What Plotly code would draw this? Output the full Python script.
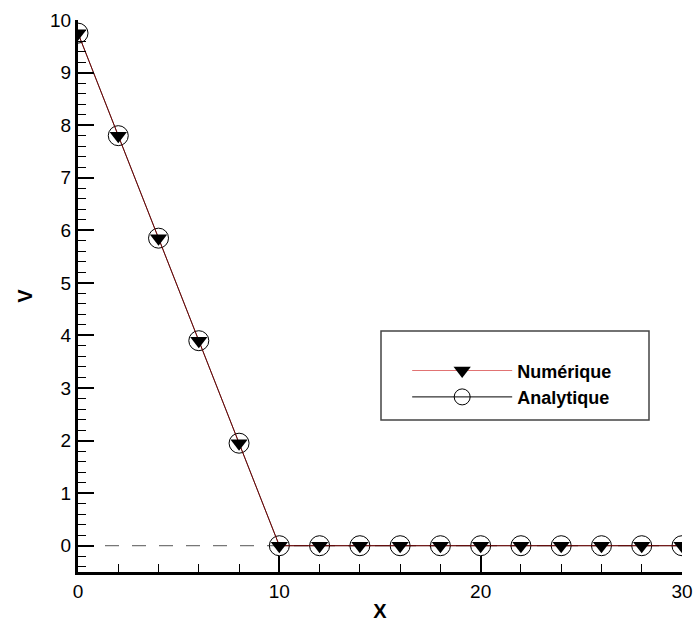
import plotly.graph_objects as go

x_vals = [0, 2, 4, 6, 8, 10, 12, 14, 16, 18, 20, 22, 24, 26, 28, 30]
v_numerique = [9.75, 7.8, 5.85, 3.9, 1.95, 0, 0, 0, 0, 0, 0, 0, 0, 0, 0, 0]
v_analytique = [9.75, 7.8, 5.85, 3.9, 1.95, 0, 0, 0, 0, 0, 0, 0, 0, 0, 0, 0]
zero_x = [0, 30]
zero_y = [0, 0]

fig = go.Figure()
fig.add_trace(go.Scatter(x=zero_x, y=zero_y, mode="lines", showlegend=False,
                         line=dict(color="#555555", width=1, dash="14px,13px"), hoverinfo="skip"))
fig.add_trace(go.Scatter(x=x_vals, y=v_analytique, name="Analytique", mode="lines+markers",
                         line=dict(color="#000000", width=1),
                         marker=dict(symbol="circle-open", size=20, color="#000000", line=dict(width=1))))
fig.add_trace(go.Scatter(x=x_vals, y=v_numerique, name="Numérique", mode="lines+markers",
                         line=dict(color="rgba(200,0,0,0.55)", width=1),
                         marker=dict(symbol="triangle-down", size=15, color="#000000")))

font_family = "Liberation Sans, Arial, sans-serif"
axis_common = dict(showline=True, linecolor="black", linewidth=3, ticks="inside",
                   tickcolor="black", tickwidth=2, ticklen=16, showgrid=False, zeroline=False,
                   tickfont=dict(family=font_family, size=19, color="black"), mirror=False,
                   automargin=False, ticklabeloverflow="allow")

fig.update_layout(
    width=697, height=626,
    margin=dict(l=78, r=15, t=20, b=54, autoexpand=False),
    paper_bgcolor="white", plot_bgcolor="white",
    xaxis=dict(range=[0, 30], dtick=10, tick0=0,
               minor=dict(dtick=2, ticks="inside", ticklen=8, tickcolor="black", tickwidth=1),
               title=dict(text="X", font=dict(family=font_family, size=20, color="black", weight="bold"), standoff=4),
               **axis_common),
    yaxis=dict(range=[-0.5, 10], dtick=1, tick0=0,
               minor=dict(dtick=0.2, tick0=0, ticks="inside", ticklen=8, tickcolor="black", tickwidth=1),
               title=dict(text="V", font=dict(family=font_family, size=20, color="black", weight="bold"), standoff=13),
               **axis_common),
    legend=dict(x=0.545, y=0.398, xanchor="left", yanchor="top", traceorder="reversed",
                bgcolor="rgba(0,0,0,0)", borderwidth=0, itemwidth=100,
                font=dict(family=font_family, size=18, color="black", weight="bold"),
                tracegroupgap=0),
    showlegend=True,
    shapes=[dict(type="rect", xref="paper", yref="paper",
                 x0=(381 - 78) / 604, x1=(649 - 78) / 604,
                 y0=(572 - 420) / 552, y1=(572 - 331) / 552,
                 line=dict(color="#444444", width=1.5), fillcolor="rgba(0,0,0,0)")],
)

fig.write_html("out.html", config={"displayModeBar": False},
               post_script="document.body.style.margin='0';document.body.style.overflow='hidden';")
